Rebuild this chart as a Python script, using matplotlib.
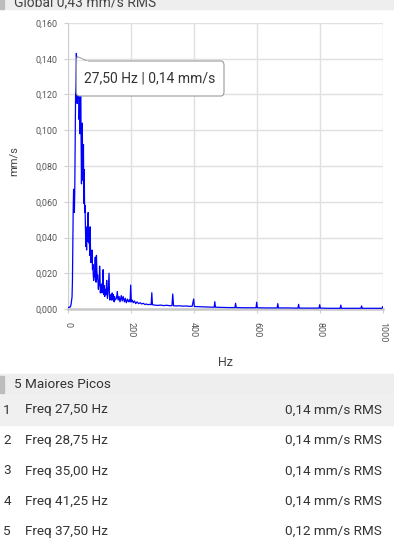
import matplotlib
matplotlib.use("Agg")
import matplotlib.pyplot as plt
import numpy as np
from matplotlib.patches import Rectangle, FancyBboxPatch, Polygon
from matplotlib.ticker import FuncFormatter, MultipleLocator

plt.rcParams['font.family'] = ['Roboto', 'DejaVu Sans']

# spectrum, 0-150 Hz at 1.25 Hz bins
low_step = 1.25
low_amp = [
    0.0010, 0.0008, 0.0008, 0.0009, 0.0010, 0.0011, 0.0010, 0.0014, 0.0020, 0.0032,
    0.0050, 0.0068, 0.0150, 0.0350, 0.0560, 0.0670, 0.0660, 0.0540, 0.0680, 0.0950,
    0.1190, 0.1250, 0.1430, 0.1380, 0.1150, 0.1300, 0.1180, 0.1240, 0.1370, 0.1060,
    0.1200, 0.0980, 0.1120, 0.1360, 0.0960, 0.0700, 0.0880, 0.1040, 0.0800, 0.0720,
    0.0920, 0.0590, 0.0780, 0.0540, 0.0580, 0.0450, 0.0350, 0.0420, 0.0330, 0.0460,
    0.0380, 0.0500, 0.0540, 0.0370, 0.0440, 0.0400, 0.0300, 0.0460, 0.0320, 0.0260,
    0.0300, 0.0270, 0.0330, 0.0220, 0.0250, 0.0190, 0.0160, 0.0210, 0.0180, 0.0240,
    0.0290, 0.0200, 0.0150, 0.0300, 0.0220, 0.0170, 0.0190, 0.0145, 0.0110, 0.0160,
    0.0130, 0.0240, 0.0180, 0.0090, 0.0120, 0.0106, 0.0140, 0.0090, 0.0120, 0.0160,
    0.0220, 0.0110, 0.0080, 0.0130, 0.0070, 0.0090, 0.0110, 0.0080, 0.0120, 0.0160,
    0.0090, 0.0060, 0.0080, 0.0120, 0.0150, 0.0200, 0.0090, 0.0050, 0.0070, 0.0060,
    0.0080, 0.0050, 0.0060, 0.0090, 0.0070, 0.0050, 0.0080, 0.0060, 0.0040, 0.0070,
    0.0050,
]
low_freq = np.arange(len(low_amp)) * low_step

# 150-1000 Hz, sparse points (baseline + harmonic peaks)
high_freq = [155, 157.5, 160, 163, 166, 170, 173, 176, 180, 183, 186, 190, 193, 196, 198,
             200, 202, 205, 208, 212, 216, 220, 225, 230, 235, 240, 245, 250, 255, 260,
             265, 267, 269, 275, 285, 295, 305, 315, 325, 331, 333.5, 336, 345, 355, 365,
             375, 385, 395, 400, 402, 415, 430, 445, 460, 465, 467, 469, 490, 510, 531,
             533, 535, 560, 580, 598, 600, 602, 630, 665, 667, 669, 700, 731, 733, 735,
             770, 798, 800, 802, 830, 865, 867, 869, 900, 931, 933, 935, 965, 998, 1000]
high_amp = [0.0060, 0.0098, 0.0050, 0.0070, 0.0040, 0.0075, 0.0045, 0.0070, 0.0040, 0.0060,
            0.0035, 0.0055, 0.0040, 0.0050, 0.0040, 0.0134, 0.0040, 0.0050, 0.0035, 0.0045,
            0.0030, 0.0040, 0.0030, 0.0035, 0.0028, 0.0032, 0.0025, 0.0028, 0.0024, 0.0026,
            0.0024, 0.0091, 0.0024, 0.0022, 0.0020, 0.0022, 0.0019, 0.0021, 0.0018, 0.0019,
            0.0084, 0.0018, 0.0017, 0.0018, 0.0016, 0.0017, 0.0015, 0.0015, 0.0056, 0.0014,
            0.0013, 0.0012, 0.0011, 0.0010, 0.0010, 0.0041, 0.0010, 0.0009, 0.0008, 0.0008,
            0.0032, 0.0008, 0.0007, 0.0007, 0.0007, 0.0038, 0.0007, 0.0006, 0.0006, 0.0030,
            0.0006, 0.0006, 0.0005, 0.0026, 0.0005, 0.0005, 0.0005, 0.0024, 0.0005, 0.0004,
            0.0004, 0.0022, 0.0004, 0.0004, 0.0004, 0.0017, 0.0004, 0.0004, 0.0004, 0.0013]

global_rms = "Global 0,43 mm/s RMS"
tooltip = "27,50 Hz | 0,14 mm/s"
peak_freqs = ["27,50", "28,75", "35,00", "41,25", "37,50"]
peak_vals = ["0,14", "0,14", "0,14", "0,14", "0,12"]

freq = np.concatenate([low_freq, high_freq])
amp = np.concatenate([low_amp, high_amp])

W, H = 394, 558
fig = plt.figure(figsize=(W / 100, H / 100), dpi=100)

def fx(px):
    return px / W

def fy(py):
    return 1 - py / H

# header band (cut off at top)
fig.patches.append(Rectangle((0, fy(9)), 1, 9 / H, transform=fig.transFigure,
                             color='#eeeeee', zorder=0))
fig.patches.append(Rectangle((0, fy(9)), fx(4), 9 / H, transform=fig.transFigure,
                             color='#bdbdbd', zorder=1))
fig.text(fx(14), fy(6), global_rms, fontsize=10, color='#444444', va='baseline')

ax = fig.add_axes([fx(67.7), fy(309), fx(382.7) - fx(67.7), fy(23) - fy(309)])
ax.plot(freq, amp, color='#0000ff', lw=0.9, zorder=3)
ax.set_xlim(0, 1000)
ax.set_ylim(0, 0.16)
ax.xaxis.set_major_locator(MultipleLocator(200))
ax.yaxis.set_major_locator(MultipleLocator(0.02))
ax.yaxis.set_major_formatter(FuncFormatter(lambda v, p: f"{v:.3f}".replace('.', ',')))
ax.grid(True, color='#e0e0e0', lw=1.0, zorder=0)
for s in ['top', 'right']:
    ax.spines[s].set_visible(False)
ax.spines['left'].set_color('#d0d0d0')
ax.spines['bottom'].set_color('#c8c8c8')
ax.spines['bottom'].set_linewidth(1.8)
ax.tick_params(axis='y', length=3, color='#d0d0d0', labelsize=6.5, labelcolor='#555555', pad=4)
ax.tick_params(axis='x', length=3, color='#d0d0d0', labelsize=6.5, labelcolor='#555555', pad=6)
for lab in ax.get_xticklabels():
    lab.set_rotation(270)
ax.set_xlabel("Hz", fontsize=9, color='#444444')
ax.xaxis.set_label_coords(0.5, -0.164)
ax.set_ylabel("mm/s", fontsize=8, color='#444444')
ax.yaxis.set_label_coords(-0.155, 0.516)

# tooltip
box = FancyBboxPatch((fx(76.3), fy(96)), fx(224) - fx(76.3), fy(61) - fy(96),
                     boxstyle="round,pad=0,rounding_size=0.008",
                     transform=fig.transFigure, facecolor='white',
                     edgecolor='#9a9a9a', lw=0.8, zorder=10)
fig.patches.append(box)
fig.patches.append(Polygon([(fx(76.3), fy(61.2)), (fx(77.2), fy(56.5)), (fx(87.5), fy(61.2))],
                           closed=True, transform=fig.transFigure, facecolor='white',
                           edgecolor='#9a9a9a', lw=0.7, zorder=11))
fig.patches.append(Rectangle((fx(77.0), fy(62.2)), fx(10), 1.6 / H, transform=fig.transFigure,
                             color='white', zorder=12))
fig.text(fx(84), fy(78.5), tooltip, fontsize=10, color='#333333', va='center', zorder=13)

# table of peaks
fig.patches.append(Rectangle((0, fy(393.5)), 1, 19.5 / H, transform=fig.transFigure,
                             color='#eeeeee', zorder=0))
fig.patches.append(Rectangle((0, fy(393)), fx(3.5), 17 / H, transform=fig.transFigure,
                             color='#bdbdbd', zorder=1))
fig.text(fx(14), fy(384.3), "5 Maiores Picos", fontsize=9.7, color='#333333', va='center')
fig.patches.append(Rectangle((0, fy(425)), 1, 31.5 / H, transform=fig.transFigure,
                             color='#f0f0f0', zorder=0))
row_y = [410, 440.7, 471, 501.7, 531.7]
for i, (f, v) in enumerate(zip(peak_freqs, peak_vals)):
    fig.text(fx(3.3), fy(row_y[i]), str(i + 1), fontsize=9.7, color='#333333', va='center')
    fig.text(fx(25), fy(row_y[i]), f"Freq {f} Hz", fontsize=9.7, color='#333333', va='center')
    fig.text(fx(381.5), fy(row_y[i]), f"{v} mm/s RMS", fontsize=9.7, color='#333333',
             va='center', ha='right')

fig.savefig("out.png", dpi=100)
